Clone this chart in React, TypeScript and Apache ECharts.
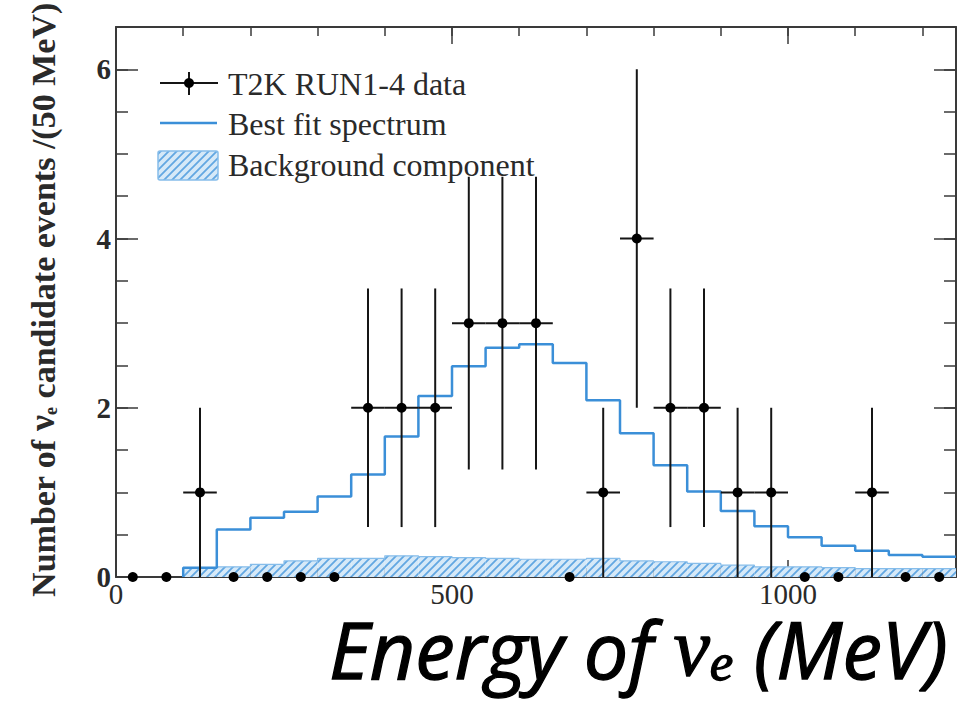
import { useEffect, useRef } from 'react';
import * as echarts from 'echarts';

// ---- data ----
const binCenters = [25, 75, 125, 175, 225, 275, 325, 375, 425, 475, 525, 575, 625, 675, 725, 775, 825, 875, 925, 975, 1025, 1075, 1125, 1175, 1225];
const dataCounts = [0, 0, 1, 0, 0, 0, 0, 2, 2, 2, 3, 3, 3, 0, 1, 4, 2, 2, 1, 1, 0, 0, 1, 0, 0];
const errLow = [0, 0, 1, 0, 0, 0, 0, 1.41, 1.41, 1.41, 1.73, 1.73, 1.73, 0, 1, 2, 1.41, 1.41, 1, 1, 0, 0, 1, 0, 0];
const errHigh = [0, 0, 1, 0, 0, 0, 0, 1.41, 1.41, 1.41, 1.73, 1.73, 1.73, 0, 1, 2, 1.41, 1.41, 1, 1, 0, 0, 1, 0, 0];
const binHalfWidth = 25;

const fitBinStarts = [100, 150, 200, 250, 300, 350, 400, 450, 500, 550, 600, 650, 700, 750, 800, 850, 900, 950, 1000, 1050, 1100, 1150, 1200];
const fitBinWidth = 50;
const fitValues = [0.11, 0.56, 0.70, 0.77, 0.95, 1.21, 1.66, 2.14, 2.49, 2.71, 2.75, 2.53, 2.09, 1.70, 1.32, 1.01, 0.78, 0.60, 0.47, 0.37, 0.31, 0.26, 0.24];
const bgValues = [0.11, 0.12, 0.15, 0.19, 0.22, 0.22, 0.25, 0.24, 0.23, 0.22, 0.21, 0.21, 0.22, 0.19, 0.18, 0.16, 0.14, 0.12, 0.12, 0.11, 0.10, 0.10, 0.10];

const xMin = 0;
const xMax = 1250;
const yMin = 0;
const yMax = 6.5;

const legendLabels = ['T2K RUN1-4 data', 'Best fit spectrum', 'Background component'];

const BLUE = '#3b8fd8';
const AXIS = '#3a3a3a';
const TEXT = '#2a2a2a';

const hatchSvg =
  "<svg xmlns='http://www.w3.org/2000/svg' width='8' height='8'>" +
  "<rect width='8' height='8' fill='#d6e9f8'/>" +
  "<path d='M-2,2 L2,-2 M0,8 L8,0 M6,10 L10,6' stroke='#62a7e2' stroke-width='1.8'/></svg>";
const hatchUrl = 'data:image/svg+xml;charset=utf-8,' + encodeURIComponent(hatchSvg);
const hatchPattern: any = { image: hatchUrl, repeat: 'repeat', imageWidth: 8, imageHeight: 8 };

function stepPoints(starts: number[], width: number, vals: number[]) {
  const pts: number[][] = [[starts[0], 0]];
  for (let i = 0; i < starts.length; i++) {
    pts.push([starts[i], vals[i]]);
    pts.push([starts[i] + width, vals[i]]);
  }
  return pts;
}

export default function App() {
  const ref = useRef<HTMLDivElement>(null);

  useEffect(() => {
    if (!ref.current) return;
    const chart = echarts.init(ref.current, undefined, { renderer: 'svg' });

    const serif = 'Liberation Serif';
    const majorX = (pos: 'bottom' | 'top', labels: boolean) => ({
      type: 'value', min: xMin, max: xMax, interval: 500, position: pos,
      axisLine: { show: true, onZero: false, lineStyle: { color: AXIS, width: 2 } },
      axisTick: { show: true, inside: true, length: 17, lineStyle: { color: AXIS, width: 1.5 } },
      axisLabel: {
        show: labels, fontFamily: serif, fontSize: 29, lineHeight: 28, color: TEXT, margin: 3, showMaxLabel: false,
        formatter: (v: number) => String(v),
      },
      splitLine: { show: false },
    });
    const minorX = (pos: 'bottom' | 'top') => ({
      type: 'value', min: xMin, max: xMax, interval: 100, position: pos,
      axisLine: { show: false, onZero: false },
      axisTick: { show: true, inside: true, length: 9, lineStyle: { color: AXIS, width: 1.5 } },
      axisLabel: { show: false },
      splitLine: { show: false },
    });
    const majorY = (pos: 'left' | 'right', labels: boolean) => ({
      type: 'value', min: yMin, max: yMax, interval: 2, position: pos,
      axisLine: { show: true, onZero: false, lineStyle: { color: AXIS, width: 2 } },
      axisTick: { show: true, inside: true, length: 22, lineStyle: { color: AXIS, width: 1.5 } },
      axisLabel: { show: labels, fontFamily: serif, fontWeight: 'bold', fontSize: 29, color: TEXT, margin: 5, showMaxLabel: false },
      splitLine: { show: false },
    });
    const minorY = (pos: 'left' | 'right') => ({
      type: 'value', min: yMin, max: yMax, interval: 0.5, position: pos,
      axisLine: { show: false, onZero: false },
      axisTick: { show: true, inside: true, length: 12, lineStyle: { color: AXIS, width: 1.5 } },
      axisLabel: { show: false },
      splitLine: { show: false },
    });

    const bgData = fitBinStarts.map((s, i) => [s, s + fitBinWidth, bgValues[i]]);
    const pointData = binCenters.map((x, i) => [x, dataCounts[i], errLow[i], errHigh[i]]);

    const titleStroke = { stroke: '#000', lineWidth: 1.3 };

    const option: any = {
      animation: false,
      grid: { left: 116, top: 27, right: 3, bottom: 126, outerBoundsMode: 'none', containLabel: false },
      xAxis: [majorX('bottom', true), minorX('bottom'), majorX('top', false), minorX('top')],
      yAxis: [majorY('left', true), minorY('left'), majorY('right', false), minorY('right')],
      series: [
        {
          type: 'custom', name: legendLabels[2], xAxisIndex: 0, yAxisIndex: 0, data: bgData,
          renderItem: (params: any, api: any) => {
            const p0 = api.coord([api.value(0), api.value(2)]);
            const p1 = api.coord([api.value(1), 0]);
            return {
              type: 'rect',
              shape: { x: p0[0], y: p0[1], width: p1[0] - p0[0], height: p1[1] - p0[1] },
              style: { fill: hatchPattern, stroke: null },
            };
          },
          z: 1,
        },
        {
          type: 'line', name: 'bgOutline', data: stepPoints(fitBinStarts, fitBinWidth, bgValues),
          showSymbol: false, symbol: 'none', lineStyle: { color: '#86bdea', width: 1.2 }, z: 2,
        },
        {
          type: 'line', name: legendLabels[1], data: stepPoints(fitBinStarts, fitBinWidth, fitValues),
          showSymbol: false, symbol: 'none', lineStyle: { color: BLUE, width: 2.5 }, z: 3,
        },
        {
          type: 'custom', name: legendLabels[0], xAxisIndex: 0, yAxisIndex: 0, data: pointData, z: 5,
          renderItem: (params: any, api: any) => {
            const x = api.value(0), y = api.value(1), lo = api.value(2), hi = api.value(3);
            const c = api.coord([x, y]);
            const children: any[] = [];
            if (hi > 0 || lo > 0) {
              const pLo = api.coord([x, y - lo]);
              const pHi = api.coord([x, y + hi]);
              const pL = api.coord([x - binHalfWidth, y]);
              const pR = api.coord([x + binHalfWidth, y]);
              children.push({ type: 'line', shape: { x1: c[0], y1: pLo[1], x2: c[0], y2: pHi[1] }, style: { stroke: '#151515', lineWidth: 2 } });
              children.push({ type: 'line', shape: { x1: pL[0], y1: c[1], x2: pR[0], y2: c[1] }, style: { stroke: '#151515', lineWidth: 2 } });
            }
            children.push({ type: 'circle', shape: { cx: c[0], cy: c[1], r: 5 }, style: { fill: '#000' } });
            return { type: 'group', children };
          },
        },
      ],
      graphic: [
        // legend
        { type: 'line', shape: { x1: 160, y1: 83, x2: 218, y2: 83 }, style: { stroke: '#151515', lineWidth: 2 } },
        { type: 'line', shape: { x1: 189, y1: 72, x2: 189, y2: 95 }, style: { stroke: '#151515', lineWidth: 2 } },
        { type: 'circle', shape: { cx: 189, cy: 83, r: 5 }, style: { fill: '#000' } },
        { type: 'text', x: 228, y: 84, style: { text: legendLabels[0], font: `32px "${serif}"`, fill: TEXT, verticalAlign: 'middle' } },
        { type: 'line', shape: { x1: 160, y1: 123, x2: 217, y2: 123 }, style: { stroke: BLUE, lineWidth: 2.5 } },
        { type: 'text', x: 228, y: 124, style: { text: legendLabels[1], font: `32px "${serif}"`, fill: TEXT, verticalAlign: 'middle' } },
        { type: 'rect', shape: { x: 158, y: 151, width: 60, height: 29, r: 2 }, style: { fill: hatchPattern, stroke: '#86bdea', lineWidth: 1.5 } },
        { type: 'text', x: 228, y: 165, style: { text: legendLabels[2], font: `32px "${serif}"`, fill: TEXT, verticalAlign: 'middle' } },
        // y axis title
        {
          type: 'text', x: 40, y: 300, rotation: Math.PI / 2,
          style: {
            text: '{a|Number of }{nu|ν}{sub|e}{a| candidate events /(50 MeV)}',
            align: 'center', verticalAlign: 'middle', fill: TEXT,
            rich: {
              a: { fontFamily: serif, fontWeight: 'bold', fontSize: 34, lineHeight: 40, verticalAlign: 'bottom', fill: TEXT },
              nu: { fontFamily: serif, fontWeight: 'bold', fontSize: 36, lineHeight: 40, verticalAlign: 'bottom', fill: TEXT },
              sub: { fontFamily: serif, fontWeight: 'bold', fontSize: 18, lineHeight: 16, verticalAlign: 'bottom', fill: TEXT },
            },
          },
        },
        // x axis title
        {
          type: 'text', x: 329, y: 688,
          style: {
            text: '{a|Energy of }{nu|ν}{sub|e}{a| (MeV)}',
            align: 'left', verticalAlign: 'bottom', fill: '#000',
            rich: {
              a: { fontFamily: 'Open Sans', fontStyle: 'italic', fontSize: 79, lineHeight: 70, verticalAlign: 'bottom', fill: '#000', ...titleStroke },
              nu: { fontFamily: serif, fontStyle: 'italic', fontSize: 82, lineHeight: 70, verticalAlign: 'bottom', fill: '#000', ...titleStroke },
              sub: { fontFamily: serif, fontStyle: 'italic', fontSize: 53, lineHeight: 26, verticalAlign: 'bottom', fill: '#000', ...titleStroke },
            },
          },
        },
      ],
    };

    chart.setOption(option);
    return () => chart.dispose();
  }, []);

  return <div ref={ref} style={{ position: 'absolute', left: 0, top: 0, width: 959, height: 703, background: '#fff' }} />;
}
